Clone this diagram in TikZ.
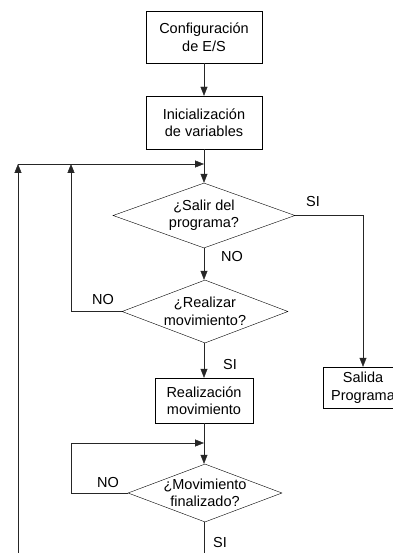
\documentclass[tikz,border=0pt]{standalone}
\usepackage{fontspec}
\setmainfont{Liberation Sans}
\usetikzlibrary{shapes.geometric,arrows.meta}

\tikzset{
  stepbox/.style={draw, rectangle, align=center, inner sep=0pt},
  decision/.style={draw, diamond, inner sep=0pt},
  txt/.style={align=center, inner sep=0pt},
  flow/.style={draw=black!85, -{Triangle[width=7pt,length=9pt]}},
  line/.style={draw=black!85},
  tag/.style={inner sep=0pt}
}

\begin{document}
\begin{tikzpicture}
  [x=1pt, y=1pt, font=\fontsize{14.5}{17.5}\selectfont]
  \useasboundingbox (0,0) rectangle (392,-553);
  % process boxes
  \node[stepbox, minimum width=116pt, minimum height=52pt] (conf) at (204,-37) {Configuración\\de E/S};
  \node[stepbox, minimum width=116pt, minimum height=53pt] (ini) at (204,-122.5) {Inicialización\\de variables};
  \node[stepbox, minimum width=98pt, minimum height=45pt] (mover) at (204,-400.5) {Realización\\movimiento};
  \node[stepbox, minimum width=80pt, minimum height=41pt] (salida) at (363,-387.5) {Salida\\Programa};
  % decisions
  \node[decision, minimum width=182pt, minimum height=65pt,
    label={[txt]center:{¿Salir del\\programa?}}] (salir) at (204,-215.5) {};
  \node[decision, minimum width=166pt, minimum height=63pt,
    label={[txt]center:{¿Realizar\\movimiento?}}] (realizar) at (205,-311.5) {};
  \node[decision, minimum width=154pt, minimum height=58pt,
    label={[txt]center:{¿Movimiento\\finalizado?}}] (fin) at (205,-493) {};
  % junctions
  \coordinate (j1) at (204,-164);
  \coordinate (j2) at (204,-443);
  \coordinate (c1) at (18,-164);
  \coordinate (c2) at (71,-164);
  \coordinate (c3) at (71,-443);
  \coordinate (b1) at (18,-553);
  \coordinate (b2) at (204,-553);
  % connectors
  \draw[flow] (conf) -- (ini);
  \draw[flow] (ini) -- (salir);
  \draw[flow] (b1) -- (c1);
  \draw[flow] (c1) -- (j1);
  \draw[flow] (realizar.west) -| (c2);
  \draw[flow] (salir.east) -| (salida.north);
  \draw[flow] (salir.south) -- (realizar.north -| salir.south);
  \draw[flow] (realizar.south -| mover.north) -- (mover.north);
  \draw[flow] (mover.south) -- (fin.north -| mover.south);
  \draw[line] (fin.west) -| (c3);
  \draw[flow] (c3) -- (j2);
  \draw[line] (fin.south -| b2) -- (b2);
  % branch labels
  \node[tag] (si1) at (313,-202) {SI};
  \node[tag] (no1) at (232,-257) {NO};
  \node[tag] (no2) at (103,-300) {NO};
  \node[tag] (si2) at (230,-365) {SI};
  \node[tag] (no3) at (108,-483) {NO};
  \node[tag] (si3) at (220,-543) {SI};
\end{tikzpicture}
\end{document}
